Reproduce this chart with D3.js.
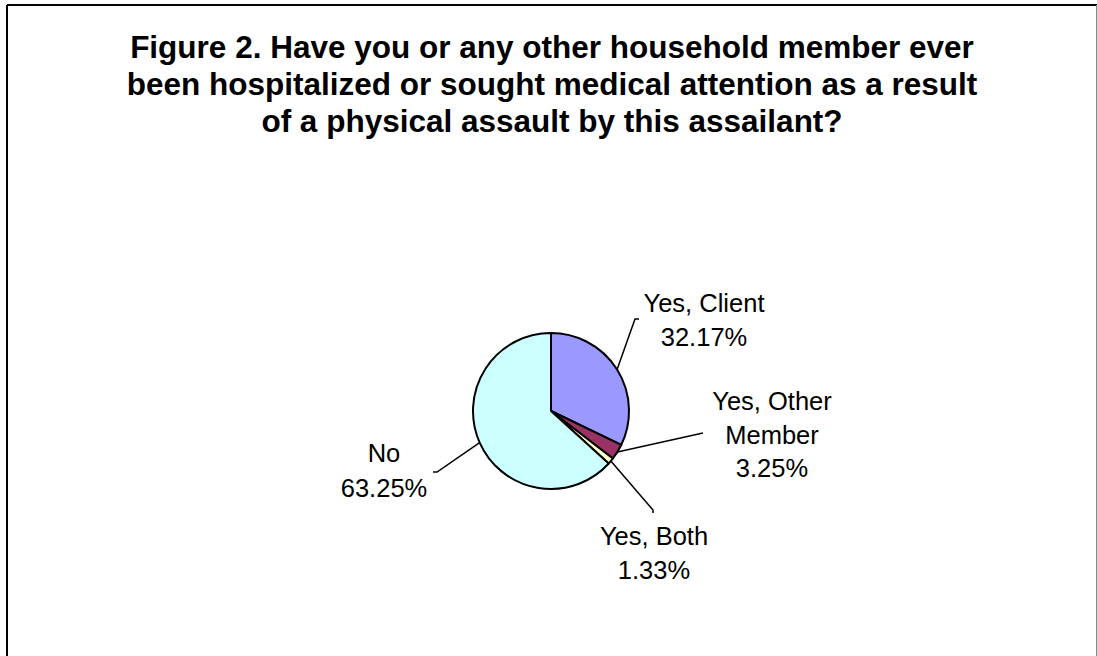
<!DOCTYPE html>
<html><head><meta charset="utf-8">
<script src="https://cdn.jsdelivr.net/npm/d3@7"></script>
<style>body{margin:0;background:#fff}svg{display:block}</style>
</head><body>
<script>
const categories = ["Yes, Client", "Yes, Other Member", "Yes, Both", "No"];
const values = [32.17, 3.25, 1.33, 63.25];
const labelLines = [["Yes, Client"], ["Yes, Other", "Member"], ["Yes, Both"], ["No"]];
const colors = ["#9999FF", "#993366", "#FFFFCC", "#CCFFFF"];
const titleLines = ["Figure 2. Have you or any other household member ever",
  "been hospitalized or sought medical attention as a result",
  "of a physical assault by this assailant?"];

const W = 1097, H = 656;
const FONT = "Liberation Sans, Arial, sans-serif";
const svg = d3.select("body").append("svg").attr("width", W).attr("height", H);
// frame
svg.append("line").attr("x1", 7).attr("y1", 5).attr("x2", 1097).attr("y2", 5).attr("stroke", "#000").attr("stroke-width", 2);
svg.append("line").attr("x1", 7).attr("y1", 5).attr("x2", 7).attr("y2", 656).attr("stroke", "#000").attr("stroke-width", 2);
svg.append("line").attr("x1", 1096.5).attr("y1", 5).attr("x2", 1096.5).attr("y2", 656).attr("stroke", "#888").attr("stroke-width", 1);

svg.append("g").selectAll("text").data(titleLines).join("text")
  .attr("x", 552).attr("y", (d, i) => 58 + i * 37)
  .attr("text-anchor", "middle").attr("font-family", FONT)
  .attr("font-weight", "bold").attr("font-size", 31.5).text(d => d);

const cx = 551, cy = 411, r = 78;
const pie = d3.pie().sort(null).value(d => d)(values);
const arc = d3.arc().innerRadius(0).outerRadius(r);
const g = svg.append("g").attr("transform", `translate(${cx},${cy})`);
g.selectAll("path").data(pie).join("path").attr("d", arc)
  .attr("fill", (d, i) => colors[i]).attr("stroke", "#000").attr("stroke-width", 2)
  .attr("stroke-linejoin", "round");

// label placement (layout): text center x & first baseline; leader elbow & end
const layout = [
  {x: 704, y: 312, dy: 33.5, ex: 635, ey: 319, tx: 639, ty: 319},
  {x: 772, y: 410, dy: 33.5, ex: 703, ey: 433, tx: 703, ty: 433},
  {x: 654, y: 545, dy: 33.5, ex: 653, ey: 510, tx: 653, ty: 513},
  {x: 384, y: 462, dy: 34.5, ex: 437, ey: 472, tx: 433, ty: 472}
];
const fmt = v => v.toFixed(2) + "%";
pie.forEach((d, i) => {
  const a = (d.startAngle + d.endAngle) / 2;
  const sx = cx + Math.sin(a) * r, sy = cy - Math.cos(a) * r;
  const L = layout[i];
  svg.append("polyline").attr("points", `${sx},${sy} ${L.ex},${L.ey} ${L.tx},${L.ty}`)
    .attr("fill", "none").attr("stroke", "#000").attr("stroke-width", 1.5);
  const lines = labelLines[i].concat([fmt(values[i])]);
  svg.append("g").selectAll("text").data(lines).join("text")
    .attr("x", L.x).attr("y", (t, j) => L.y + j * L.dy)
    .attr("text-anchor", "middle").attr("font-family", FONT)
    .attr("font-size", 25.5).text(t => t);
});
</script>
</body></html>
